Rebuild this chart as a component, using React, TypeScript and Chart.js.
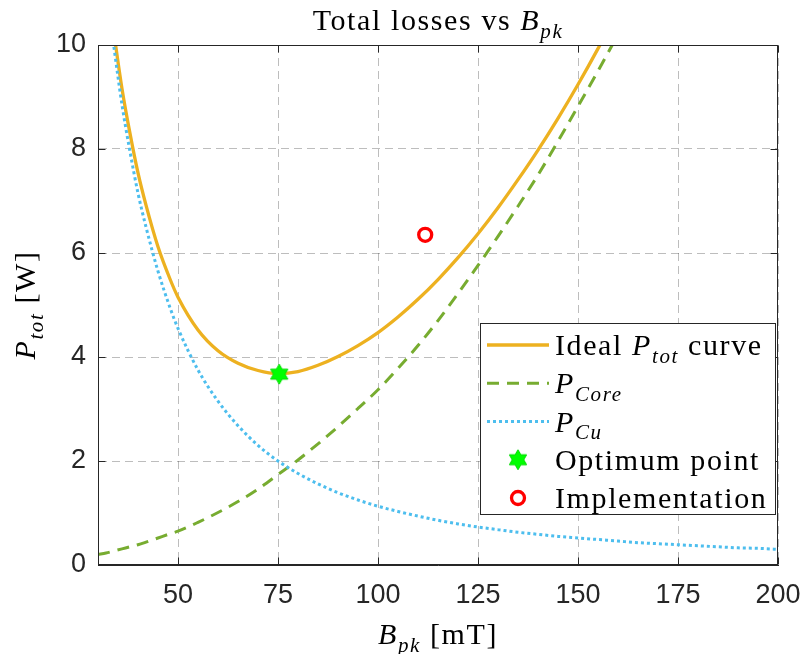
import React, { useEffect, useRef } from "react";
import { Chart, registerables } from "chart.js";

Chart.register(...registerables);

// ---- data ----
const bSamples = [30, 32, 34, 36, 38, 40, 42, 45, 48, 50, 55, 60, 65, 70, 75, 80, 85, 90, 95, 100, 105, 110, 115, 120, 125, 130, 135, 140, 145, 150, 155, 160, 165, 170, 175, 180, 185, 190, 195, 200];

const pTotal = [12.8, 11.33, 10.22, 9.16, 8.3, 7.54, 6.92, 6.12, 5.5, 5.15, 4.52, 4.12, 3.88, 3.74, 3.68, 3.72, 3.84, 4.01, 4.22, 4.47, 4.77, 5.11, 5.49, 5.91, 6.37, 6.87, 7.41, 7.98, 8.59, 9.24, 9.93, 10.66, 11.43];

const pCore = [0.2, 0.23, 0.27, 0.31, 0.35, 0.39, 0.44, 0.52, 0.6, 0.65, 0.82, 1.01, 1.22, 1.46, 1.74, 2.02, 2.33, 2.66, 3.01, 3.37, 3.78, 4.22, 4.7, 5.22, 5.76, 6.32, 6.9, 7.5, 8.15, 8.82, 9.5, 10.2, 10.9];

const pCu = [12.6, 11.1, 9.95, 8.85, 7.95, 7.15, 6.5, 5.65, 4.95, 4.55, 3.75, 3.15, 2.68, 2.3, 2.0, 1.76, 1.56, 1.39, 1.25, 1.13, 1.03, 0.94, 0.86, 0.79, 0.73, 0.68, 0.63, 0.59, 0.55, 0.52, 0.49, 0.46, 0.43, 0.41, 0.39, 0.37, 0.35, 0.33, 0.32, 0.3];

const optimumB = [75.3];
const optimumP = [3.67];
const implementationB = [111.8];
const implementationP = [6.35];

const xTicks = [50, 75, 100, 125, 150, 175, 200];
const yTicks = [0, 2, 4, 6, 8, 10];

// ---- styling ----
const ORANGE = "#EDB120";
const GREEN = "#77AC30";
const BLUE = "#4DBEEE";
const STAR = "#00FF00";
const RED = "#FF0000";
const AXIS = "#262626";
const SERIF = '"Liberation Serif", "Times New Roman", serif';
const SANS = '"Liberation Sans", Arial, sans-serif';
const SERIF_SIZE = 30;
const LETTER_SPACING = "1.6px";
const DASH_CORE = [12, 8];
const DASH_CU = [3, 3];

type Seg = { t: string; it?: boolean; sub?: boolean };

const titleSegs: Seg[] = [{ t: "Total losses vs " }, { t: "B", it: true }, { t: "pk", it: true, sub: true }];
const xLabelSegs: Seg[] = [{ t: "B", it: true }, { t: "pk", it: true, sub: true }, { t: " [mT]" }];
const yLabelSegs: Seg[] = [{ t: "P", it: true }, { t: "tot", it: true, sub: true }, { t: " [W]" }];

const legendLabels: Seg[][] = [
  [{ t: "Ideal " }, { t: "P", it: true }, { t: "tot", it: true, sub: true }, { t: " curve" }],
  [{ t: "P", it: true }, { t: "Core", it: true, sub: true }],
  [{ t: "P", it: true }, { t: "Cu", it: true, sub: true }],
  [{ t: "Optimum point" }],
  [{ t: "Implementation" }],
];

function segFont(s: Seg, size: number) {
  const sz = s.sub ? size * 0.7 : size;
  return `${s.it ? "italic " : ""}${sz}px ${SERIF}`;
}

function richWidth(ctx: CanvasRenderingContext2D, segs: Seg[], size: number) {
  let w = 0;
  for (const s of segs) {
    ctx.font = segFont(s, size);
    w += ctx.measureText(s.t).width;
  }
  return w;
}

function drawRich(ctx: CanvasRenderingContext2D, segs: Seg[], x: number, y: number, size: number, align: "left" | "center") {
  ctx.save();
  (ctx as any).letterSpacing = LETTER_SPACING;
  ctx.textAlign = "left";
  ctx.textBaseline = "alphabetic";
  ctx.fillStyle = "#000";
  const w = richWidth(ctx, segs, size);
  let cx = align === "center" ? x - w / 2 : x;
  for (const s of segs) {
    ctx.font = segFont(s, size);
    ctx.fillText(s.t, cx, y + (s.sub ? size * 0.26 : 0));
    cx += ctx.measureText(s.t).width;
  }
  ctx.restore();
}

function makeHexagram(R: number) {
  const c = document.createElement("canvas");
  const size = Math.ceil(R * 2 + 4);
  c.width = size;
  c.height = size;
  const g = c.getContext("2d")!;
  const cx = size / 2;
  const cy = size / 2;
  const r = R / Math.sqrt(3);
  g.beginPath();
  for (let k = 0; k < 12; k++) {
    const ang = (-90 + k * 30) * (Math.PI / 180);
    const rad = k % 2 === 0 ? R : r;
    const px = cx + rad * Math.cos(ang);
    const py = cy + rad * Math.sin(ang);
    if (k === 0) g.moveTo(px, py);
    else g.lineTo(px, py);
  }
  g.closePath();
  g.fillStyle = STAR;
  g.fill();
  g.lineWidth = 1;
  g.strokeStyle = "#00DD00";
  g.stroke();
  return c;
}

function pts(xs: number[], ys: number[]) {
  return ys.map((y, i) => ({ x: xs[i], y }));
}

export default function App() {
  const ref = useRef<HTMLCanvasElement | null>(null);

  useEffect(() => {
    document.body.style.margin = "0";
    const canvas = ref.current!;
    const star = makeHexagram(10);

    const decor = {
      id: "decor",
      afterDraw(chart: any) {
        const ctx: CanvasRenderingContext2D = chart.ctx;
        const a = chart.chartArea;
        const xs = chart.scales.x;
        const ys = chart.scales.y;
        ctx.save();
        ctx.strokeStyle = AXIS;
        ctx.lineWidth = 1;
        const L = Math.round(a.left) + 0.5;
        const R = Math.round(a.right) - 0.5;
        const T = Math.round(a.top) + 0.5;
        const B = Math.round(a.bottom) - 0.5;
        ctx.strokeRect(L, T, R - L, B - T);
        const tl = 7;
        ctx.beginPath();
        for (const v of xTicks) {
          const px = Math.round(xs.getPixelForValue(v)) + 0.5;
          ctx.moveTo(px, B);
          ctx.lineTo(px, B - tl);
          ctx.moveTo(px, T);
          ctx.lineTo(px, T + tl);
        }
        for (const v of yTicks) {
          const py = Math.round(ys.getPixelForValue(v)) + 0.5;
          ctx.moveTo(L, py);
          ctx.lineTo(L + tl, py);
          ctx.moveTo(R, py);
          ctx.lineTo(R - tl, py);
        }
        ctx.stroke();
        ctx.restore();

        const cxm = (a.left + a.right) / 2;
        const cym = (a.top + a.bottom) / 2;
        drawRich(ctx, titleSegs, cxm, 30, SERIF_SIZE, "center");
        drawRich(ctx, xLabelSegs, cxm, 644, SERIF_SIZE, "center");
        ctx.save();
        ctx.translate(35, cym);
        ctx.rotate(-Math.PI / 2);
        drawRich(ctx, yLabelSegs, 0, 0, SERIF_SIZE, "center");
        ctx.restore();

        const lg = { left: 480.5, top: 323.5, right: a.right - 2.5, bottom: 514.5 };
        ctx.save();
        ctx.fillStyle = "#fff";
        ctx.fillRect(lg.left, lg.top, lg.right - lg.left, lg.bottom - lg.top);
        ctx.strokeStyle = AXIS;
        ctx.lineWidth = 1;
        ctx.strokeRect(lg.left, lg.top, lg.right - lg.left, lg.bottom - lg.top);
        const sx0 = 487;
        const sx1 = 549;
        const mx = 518;
        const tx = 555;
        const row0 = 345;
        const step = 38.25;
        legendLabels.forEach((segs, i) => {
          const cy = row0 + i * step;
          ctx.save();
          if (i === 0) {
            ctx.strokeStyle = ORANGE;
            ctx.lineWidth = 3.3;
            ctx.beginPath();
            ctx.moveTo(sx0, cy);
            ctx.lineTo(sx1, cy);
            ctx.stroke();
          } else if (i === 1) {
            ctx.strokeStyle = GREEN;
            ctx.lineWidth = 3;
            ctx.setLineDash(DASH_CORE);
            ctx.beginPath();
            ctx.moveTo(sx0, cy);
            ctx.lineTo(sx1, cy);
            ctx.stroke();
          } else if (i === 2) {
            ctx.strokeStyle = BLUE;
            ctx.lineWidth = 3;
            ctx.setLineDash(DASH_CU);
            ctx.beginPath();
            ctx.moveTo(sx0, cy);
            ctx.lineTo(sx1, cy);
            ctx.stroke();
          } else if (i === 3) {
            ctx.drawImage(star, mx - star.width / 2, cy - star.height / 2);
          } else {
            ctx.strokeStyle = RED;
            ctx.lineWidth = 3.3;
            ctx.beginPath();
            ctx.arc(mx, cy, 6.5, 0, Math.PI * 2);
            ctx.stroke();
          }
          ctx.restore();
          drawRich(ctx, segs, tx, cy + 10, SERIF_SIZE, "left");
        });
        ctx.restore();
      },
    };

    const chart = new Chart(canvas, {
      type: "line",
      data: {
        datasets: [
          {
            label: "Ideal P_tot curve",
            data: pts(bSamples, pTotal),
            borderColor: ORANGE,
            borderWidth: 3.3,
            pointRadius: 0,
            cubicInterpolationMode: "monotone",
            clip: 0,
            order: 5,
          },
          {
            label: "P_Core",
            data: pts(bSamples, pCore),
            borderColor: GREEN,
            borderWidth: 3,
            borderDash: DASH_CORE,
            pointRadius: 0,
            cubicInterpolationMode: "monotone",
            clip: 0,
            order: 4,
          },
          {
            label: "P_Cu",
            data: pts(bSamples, pCu),
            borderColor: BLUE,
            borderWidth: 3,
            borderDash: DASH_CU,
            pointRadius: 0,
            cubicInterpolationMode: "monotone",
            clip: 0,
            order: 3,
          },
          {
            label: "Optimum point",
            data: pts(optimumB, optimumP),
            showLine: false,
            pointStyle: star as any,
            pointRadius: 10,
            order: 2,
          },
          {
            label: "Implementation",
            data: pts(implementationB, implementationP),
            showLine: false,
            pointStyle: "circle",
            pointRadius: 6.5,
            pointBorderWidth: 3.3,
            pointBorderColor: RED,
            pointBackgroundColor: "rgba(0,0,0,0)",
            order: 1,
          },
        ] as any,
      },
      options: {
        animation: false,
        responsive: false,
        devicePixelRatio: 1,
        layout: { padding: { top: 45, right: 26, left: 0, bottom: 0 } },
        plugins: { legend: { display: false }, tooltip: { enabled: false }, title: { display: false } },
        scales: {
          x: {
            type: "linear",
            min: 30,
            max: 200,
            afterBuildTicks: (s: any) => {
              s.ticks = xTicks.map((v) => ({ value: v }));
            },
            afterFit: (s: any) => {
              s.height = 89;
              s.paddingLeft = 0;
              s.paddingRight = 0;
            },
            ticks: {
              autoSkip: false,
              maxRotation: 0,
              padding: 14,
              color: AXIS,
              font: { family: SANS, size: 27 },
            },
            grid: { color: "rgba(38,38,38,0.3)", lineWidth: 1, drawTicks: false },
            border: { display: true, color: AXIS, width: 1, dash: [8, 5] },
          },
          y: {
            type: "linear",
            min: 0,
            max: 10,
            afterBuildTicks: (s: any) => {
              s.ticks = yTicks.map((v) => ({ value: v }));
            },
            afterFit: (s: any) => {
              s.width = 98;
              s.paddingTop = 0;
              s.paddingBottom = 0;
            },
            ticks: {
              autoSkip: false,
              padding: 12,
              color: AXIS,
              font: { family: SANS, size: 27 },
            },
            grid: { color: "rgba(38,38,38,0.3)", lineWidth: 1, drawTicks: false },
            border: { display: true, color: AXIS, width: 1, dash: [8, 5] },
          },
        },
      } as any,
      plugins: [decor],
    });

    return () => chart.destroy();
  }, []);

  return <canvas ref={ref} width={804} height={654} style={{ display: "block", width: 804, height: 654 }} />;
}
